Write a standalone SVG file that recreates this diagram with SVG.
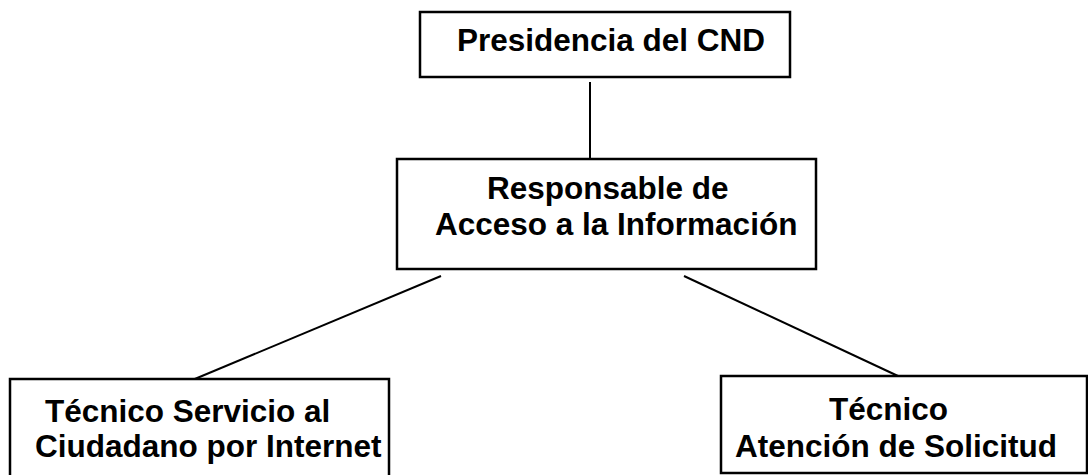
<svg xmlns="http://www.w3.org/2000/svg" width="1088" height="475" viewBox="0 0 1088 475">
<style>
.box{fill:#fff;stroke:#000;stroke-width:2.5}
.t{font-family:"Liberation Sans",Arial,sans-serif;font-weight:bold;font-size:31.5px;fill:#000}
.c{stroke:#000;stroke-width:2;fill:none}
</style>
<rect width="1088" height="475" fill="#fff"/>
<g id="connectors">
<line class="c" x1="590" y1="82" x2="590" y2="159"/>
<line class="c" x1="441" y1="276" x2="190" y2="381"/>
<line class="c" x1="684" y1="276" x2="898" y2="376"/>
</g>
<g id="presidencia">
<rect class="box" x="420" y="12" width="370" height="65"/>
<text class="t" x="457" y="51">Presidencia del CND</text>
</g>
<g id="responsable">
<rect class="box" x="397" y="159" width="419" height="110"/>
<text class="t" x="487" y="199">Responsable de</text>
<text class="t" x="435" y="235">Acceso a la Información</text>
</g>
<g id="tecnico-servicio">
<rect class="box" x="10" y="379" width="379" height="110"/>
<text class="t" x="45" y="422">Técnico Servicio al</text>
<text class="t" x="35" y="457">Ciudadano por Internet</text>
</g>
<g id="tecnico-atencion">
<rect class="box" x="721" y="376" width="366" height="97"/>
<text class="t" x="829" y="420">Técnico</text>
<text class="t" x="735" y="457">Atención de Solicitud</text>
</g>
</svg>
